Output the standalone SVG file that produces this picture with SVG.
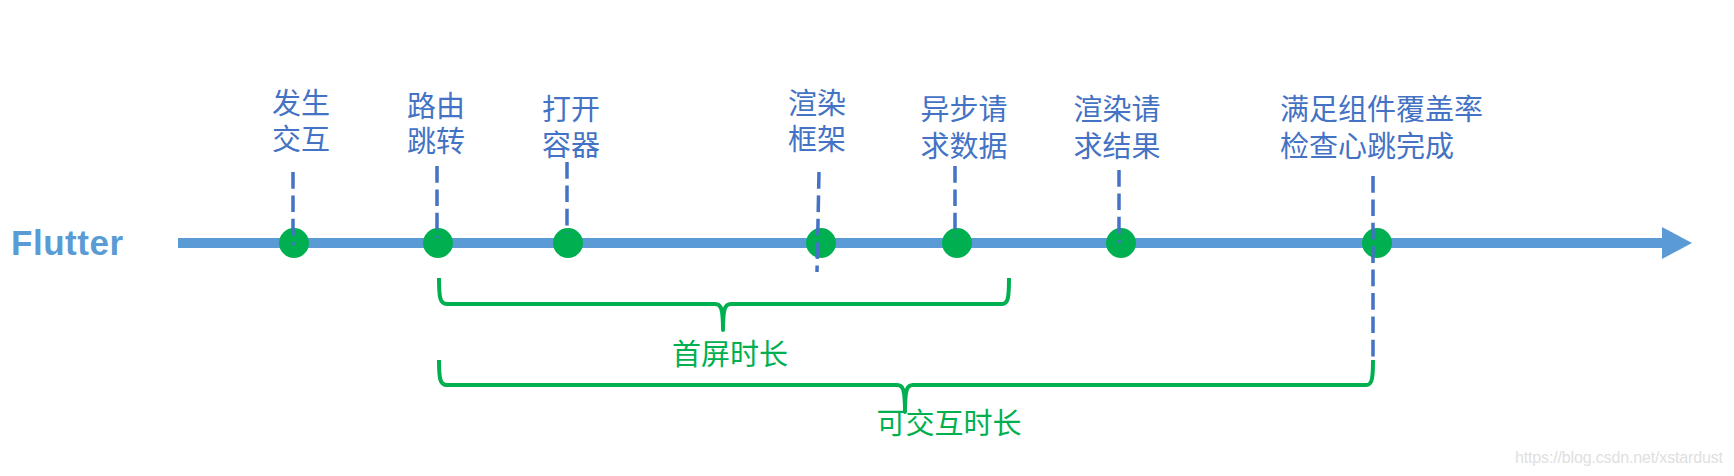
<svg xmlns="http://www.w3.org/2000/svg" width="1734" height="476" viewBox="0 0 1734 476">
<defs>
<style>
.lbl{font-family:"Noto Sans CJK SC","Microsoft YaHei",sans-serif;font-size:29px;fill:#4472C4;text-anchor:middle}
.g{font-family:"Noto Sans CJK SC","Microsoft YaHei",sans-serif;font-size:29px;fill:#00B050;text-anchor:middle}
.dot{fill:#00B050}
.dash{stroke:#4472C4;stroke-width:3.5;stroke-dasharray:16.7 6.7;fill:none}
.brace{stroke:#00B050;stroke-width:4;fill:none;stroke-linejoin:round}
</style>
</defs>
<rect width="1734" height="476" fill="#ffffff"/>
<g id="axis">
<text x="11" y="255" font-family="Liberation Sans, Arial, sans-serif" font-weight="bold" font-size="35" fill="#5B9BD5" textLength="112">Flutter</text>
<line x1="178" y1="243" x2="1664" y2="243" stroke="#5B9BD5" stroke-width="10"/>
<polygon points="1662,227 1692,243 1662,259" fill="#5B9BD5"/>
</g>
<g id="n1"><circle class="dot" cx="294" cy="243" r="15"/><text class="lbl"><tspan x="301" y="114">发生</tspan><tspan x="301" y="150">交互</tspan></text></g>
<g id="n2"><circle class="dot" cx="438" cy="243" r="15"/><text class="lbl"><tspan x="436" y="117">路由</tspan><tspan x="436" y="152">跳转</tspan></text></g>
<g id="n3"><circle class="dot" cx="568" cy="243" r="15"/><text class="lbl"><tspan x="571" y="120">打开</tspan><tspan x="571" y="156">容器</tspan></text></g>
<g id="n4"><circle class="dot" cx="821" cy="243" r="15"/><text class="lbl"><tspan x="817" y="114">渲染</tspan><tspan x="817" y="150">框架</tspan></text></g>
<g id="n5"><circle class="dot" cx="957" cy="243" r="15"/><text class="lbl"><tspan x="964" y="120">异步请</tspan><tspan x="964" y="157">求数据</tspan></text></g>
<g id="n6"><circle class="dot" cx="1121" cy="243" r="15"/><text class="lbl"><tspan x="1117" y="120">渲染请</tspan><tspan x="1117" y="157">求结果</tspan></text></g>
<g id="n7"><circle class="dot" cx="1377" cy="243" r="15"/><text class="lbl" style="text-anchor:start"><tspan x="1280" y="120">满足组件覆盖率</tspan><tspan x="1280" y="157">检查心跳完成</tspan></text></g>
<g id="connectors">
<line class="dash" x1="293" y1="172" x2="293" y2="245"/>
<line class="dash" x1="437" y1="166" x2="437" y2="238"/>
<line class="dash" x1="567" y1="162" x2="567" y2="233"/>
<line class="dash" x1="819" y1="172" x2="817" y2="272"/>
<line class="dash" x1="955" y1="166" x2="955" y2="237"/>
<line class="dash" x1="1119" y1="170" x2="1119" y2="243"/>
<line class="dash" x1="1373" y1="176" x2="1373" y2="362"/>
</g>
<g id="brace1">
<path class="brace" d="M439,278 C439,298 440,304 447,304 L715,304 C721,304 723,308 723,330 C723,308 725,304 731,304 L1002,304 C1008,304 1009,298 1009,278"/>
<text class="g" x="730" y="365">首屏时长</text>
</g>
<g id="brace2">
<path class="brace" d="M439,360 C439,379 440,385 447,385 L897,385 C903,385 905,389 905,412 C905,389 907,385 913,385 L1366,385 C1372,385 1373,379 1373,360"/>
<text class="g" x="949" y="434">可交互时长</text>
</g>
<text x="1515" y="463" font-family="Liberation Sans, Arial, sans-serif" font-size="16" fill="#e0e0e0" textLength="208">https://blog.csdn.net/xstardust</text>
</svg>
